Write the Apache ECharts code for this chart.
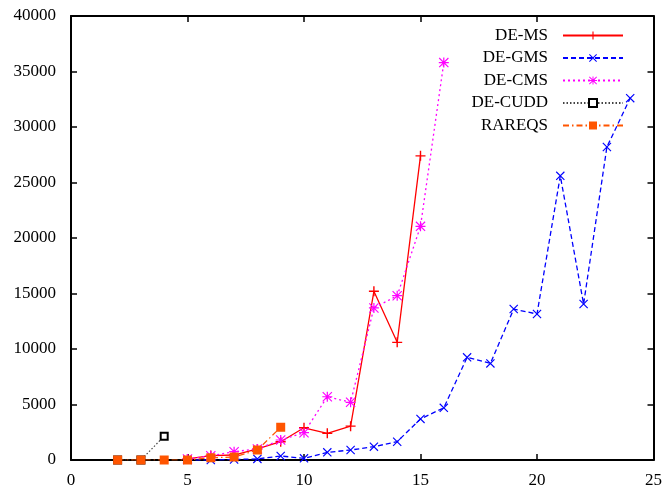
<!DOCTYPE html>
<html>
<head>
<meta charset="UTF-8">
<title>Solver runtimes</title>
<style>
    body{ margin:0; background:#ffffff; }
    #main{ width:665px; height:491px; }
</style>
<script src="https://cdn.jsdelivr.net/npm/echarts@6/dist/echarts.min.js"></script>
</head>
<body>
<div id="main"></div>
<script type="text/javascript">
    // values
    var msX   = [5, 6, 7, 8, 9, 10, 11, 12, 13, 14, 15];
    var msY   = [100, 400, 450, 1000, 1650, 2900, 2400, 3050, 15200, 10600, 27400];
    var gmsX  = [5, 6, 7, 8, 9, 10, 11, 12, 13, 14, 15, 16, 17, 18, 19, 20, 21, 22, 23, 24];
    var gmsY  = [0, 0, 50, 100, 360, 150, 690, 900, 1200, 1650, 3700, 4700, 9250, 8700, 13600, 13150, 25600, 14050, 28200, 32600];
    var cmsX  = [5, 6, 7, 8, 9, 10, 11, 12, 13, 14, 15, 16];
    var cmsY  = [100, 380, 750, 1000, 1800, 2460, 5700, 5200, 13700, 14800, 21050, 35800];
    var cuddX = [2, 3, 4];
    var cuddY = [0, 0, 2150];
    var rqX   = [2, 3, 4, 5, 6, 7, 8, 9];
    var rqY   = [0, 0, 0, 0, 200, 270, 900, 2950];

    function pairs(xs, ys){
        return xs.map(function(x, i){ return [x, ys[i]]; });
    }

    var plusPath = 'path://M4.3,0H5.7V10H4.3Z M0,4.3H10V5.7H0Z';
    var crossPath = 'path://M0,0.9L0.9,0L10,9.1L9.1,10Z M9.1,0L10,0.9L0.9,10L0,9.1Z';
    var starPath = 'path://M4.4,0H5.6V10H4.4Z M0,4.4H10V5.6H0Z M0,0.8L0.8,0L10,9.2L9.2,10Z M9.2,0L10,0.8L0.8,10L0,9.2Z';

    var font = 'Liberation Serif';
    var myChart = echarts.init(document.getElementById('main'));

    var axisCommon = {
        axisLine: { show: true, onZero: false, lineStyle: { color: '#000', width: 2 } },
        axisTick: { show: true, inside: true, length: 6, lineStyle: { color: '#000', width: 1.5 } },
        splitLine: { show: false }
    };

    var option = {
        backgroundColor: '#ffffff',
        animation: false,
        grid: { left: 71, right: 11, top: 16, bottom: 31 },
        legend: {
            orient: 'vertical',
            align: 'right',
            right: 41,
            top: 27,
            padding: 0,
            itemWidth: 60,
            itemHeight: 10,
            itemGap: 5.5,
            textStyle: { fontFamily: font, fontSize: 17, color: '#000', padding: [0, 10, 0, 0] },
            data: ['DE-MS', 'DE-GMS', 'DE-CMS', 'DE-CUDD', 'RAREQS']
        },
        xAxis: [
            Object.assign({
                type: 'value', min: 0, max: 25, interval: 5, position: 'bottom',
                axisLabel: { fontFamily: font, fontSize: 17, color: '#000', margin: 12 }
            }, axisCommon),
            Object.assign({
                type: 'value', min: 0, max: 25, interval: 5, position: 'top',
                axisLabel: { show: false }
            }, axisCommon)
        ],
        yAxis: [
            Object.assign({
                type: 'value', min: 0, max: 40000, interval: 5000, position: 'left',
                axisLabel: {
                    fontFamily: font, fontSize: 17, color: '#000', margin: 15,
                    formatter: function(v){ return String(v); }
                }
            }, axisCommon),
            Object.assign({
                type: 'value', min: 0, max: 40000, interval: 5000, position: 'right',
                axisLabel: { show: false }
            }, axisCommon)
        ],
        series: [
            {
                name: 'DE-MS', type: 'line', data: pairs(msX, msY),
                symbol: plusPath, symbolSize: 10,
                itemStyle: { color: '#ff0000' },
                lineStyle: { color: '#ff0000', width: 1.3, type: 'solid' }
            },
            {
                name: 'DE-GMS', type: 'line', data: pairs(gmsX, gmsY),
                symbol: crossPath, symbolSize: 9,
                itemStyle: { color: '#0000ff' },
                lineStyle: { color: '#0000ff', width: 1.3, type: [5, 3] }
            },
            {
                name: 'DE-CMS', type: 'line', data: pairs(cmsX, cmsY),
                symbol: starPath, symbolSize: 10,
                itemStyle: { color: '#ff00ff' },
                lineStyle: { color: '#ff00ff', width: 1.3, type: [2, 3] }
            },
            {
                name: 'DE-CUDD', type: 'line', data: pairs(cuddX, cuddY),
                symbol: 'emptyRect', symbolSize: 7,
                itemStyle: { color: '#000', borderColor: '#000', borderWidth: 1.2 },
                lineStyle: { color: '#444', width: 1.2, type: [1.5, 2] }
            },
            {
                name: 'RAREQS', type: 'line', data: pairs(rqX, rqY),
                symbol: 'rect', symbolSize: 9,
                itemStyle: { color: '#ff5500' },
                lineStyle: { color: '#ff5500', width: 1.2, type: [6, 3, 1.5, 3] }
            }
        ]
    };
    myChart.setOption(option);
</script>
</body>
</html>
